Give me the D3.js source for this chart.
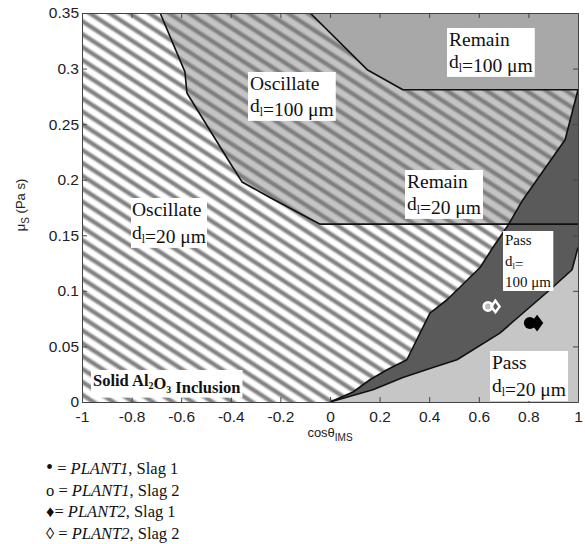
<!DOCTYPE html>
<html>
<head>
<meta charset="utf-8">
<script src="https://cdn.jsdelivr.net/npm/d3@7"></script>
<style>
  html, body { margin: 0; padding: 0; background: #fff; }
  svg { display: block; }
  .tick text { font-family: "Liberation Sans", Arial, sans-serif; font-size: 15.5px; fill: #222; }
  .serif { font-family: "Liberation Serif", "Times New Roman", serif; fill: #111; }
</style>
</head>
<body>
<svg id="chart" width="585" height="544"></svg>
<script>
// Axis ticks
const xTicks = [-1, -0.8, -0.6, -0.4, -0.2, 0, 0.2, 0.4, 0.6, 0.8, 1];
const xTickLabels = ["-1", "-0.8", "-0.6", "-0.4", "-0.2", "0", "0.2", "0.4", "0.6", "0.8", "1"];
const yTicks = [0, 0.05, 0.1, 0.15, 0.2, 0.25, 0.3, 0.35];
const yTickLabels = ["0", "0.05", "0.1", "0.15", "0.2", "0.25", "0.3", "0.35"];

// Regime boundaries, [cosθ, μS]
const oscillateBoundary = [[-0.685, 0.35], [-0.585, 0.297], [-0.577, 0.278], [-0.411, 0.218],
                           [-0.355, 0.198], [-0.242, 0.184], [-0.04, 0.16]];
const remainLine = [[-0.04, 0.16], [1, 0.16]];
const remain100Boundary = [[-0.08, 0.35], [0.15, 0.299], [0.294, 0.281], [1, 0.281]];
const pass100Upper = [[0, 0], [0.093, 0.009], [0.161, 0.02], [0.23, 0.029], [0.31, 0.038],
                      [0.403, 0.08], [0.472, 0.092], [0.605, 0.121], [0.657, 0.139],
                      [0.718, 0.159], [0.778, 0.182], [0.948, 0.236], [1, 0.281]];
const pass100Lower = [[0, 0], [0.173, 0.011], [0.294, 0.022], [0.415, 0.031], [0.512, 0.038],
                      [0.685, 0.062], [0.887, 0.101], [0.976, 0.119], [1, 0.139]];

// Plant measurements
const plant1Slag1 = [[0.806, 0.071]];
const plant1Slag2 = [[0.637, 0.086]];
const plant2Slag1 = [[0.835, 0.071]];
const plant2Slag2 = [[0.667, 0.086]];

const svg = d3.select("#chart");
const x = d3.scaleLinear().domain([-1, 1]).range([82, 578]);
const y = d3.scaleLinear().domain([0, 0.35]).range([402, 13]);

const defs = svg.append("defs");
function hatch(id, bg, stripe) {
  const gid = id + "-g";
  const g = defs.append("linearGradient").attr("id", gid)
    .attr("x1", 0).attr("y1", 0).attr("x2", 0).attr("y2", 1);
  [[0, bg], [0.18, bg], [0.42, stripe], [0.58, stripe], [0.82, bg], [1, bg]].forEach(([o, c]) =>
    g.append("stop").attr("offset", o).attr("stop-color", c));
  const p = defs.append("pattern").attr("id", id)
    .attr("patternUnits", "userSpaceOnUse")
    .attr("width", 20).attr("height", 10.8)
    .attr("patternTransform", "rotate(33)");
  p.append("rect").attr("width", 20).attr("height", 10.8).attr("fill", `url(#${gid})`);
}
hatch("hatchWhite", "#ffffff", "#828282");
hatch("hatchGray", "#c4c4c4", "#7e7e7e");

defs.append("clipPath").attr("id", "plotClip").append("rect")
  .attr("x", x(-1)).attr("y", y(0.35)).attr("width", x(1) - x(-1)).attr("height", y(0) - y(0.35));

const line = d3.line().x(d => x(d[0])).y(d => y(d[1]));
const plot = svg.append("g").attr("clip-path", "url(#plotClip)");

// Oscillate, dl = 20 µm (background)
plot.append("rect").attr("x", x(-1)).attr("y", y(0.35))
  .attr("width", x(1) - x(-1)).attr("height", y(0) - y(0.35))
  .attr("fill", "url(#hatchWhite)");

// Oscillate 100 µm / Remain 20 µm
plot.append("path")
  .attr("d", line([...oscillateBoundary, [1, 0.16], [1, 0.35]]) + "Z")
  .attr("fill", "url(#hatchGray)");

// Remain, dl = 100 µm
plot.append("path")
  .attr("d", line([...remain100Boundary, [1, 0.35]]) + "Z")
  .attr("fill", "#a8a8a8");

// Pass, dl = 20 µm
plot.append("path")
  .attr("d", line([...pass100Lower, [1, 0]]) + "Z")
  .attr("fill", "#c6c6c6");

// Pass, dl = 100 µm
plot.append("path")
  .attr("d", line([...pass100Upper, ...pass100Lower.slice().reverse()]) + "Z")
  .attr("fill", "#5a5a5a");

// Boundary lines
[oscillateBoundary, remainLine, remain100Boundary, pass100Upper, pass100Lower].forEach(b =>
  plot.append("path").attr("d", line(b)).attr("fill", "none")
    .attr("stroke", "#111").attr("stroke-width", 1.6).attr("stroke-linejoin", "round"));

// Axes with inward ticks on all sides
const fmtX = d => xTickLabels[xTicks.indexOf(d)];
const fmtY = d => yTickLabels[yTicks.indexOf(d)];
function styleAxis(g) {
  g.select(".domain").attr("stroke", "#444");
  g.selectAll(".tick line").attr("stroke", "#444");
}
svg.append("g").attr("transform", `translate(0,${y(0)})`)
  .call(d3.axisBottom(x).tickValues(xTicks).tickFormat(fmtX).tickSize(-5).tickPadding(9).tickSizeOuter(0))
  .call(styleAxis);
svg.append("g").attr("transform", `translate(0,${y(0.35)})`)
  .call(d3.axisTop(x).tickValues(xTicks).tickFormat("").tickSize(-5).tickSizeOuter(0))
  .call(styleAxis);
svg.append("g").attr("transform", `translate(${x(-1)},0)`)
  .call(d3.axisLeft(y).tickValues(yTicks).tickFormat(fmtY).tickSize(-5).tickPadding(3).tickSizeOuter(0))
  .call(styleAxis);
svg.append("g").attr("transform", `translate(${x(1)},0)`)
  .call(d3.axisRight(y).tickValues(yTicks).tickFormat("").tickSize(-5).tickSizeOuter(0))
  .call(styleAxis);

// Axis titles
const xt = svg.append("text").attr("x", x(0)).attr("y", 437).attr("text-anchor", "middle")
  .attr("font-family", "Liberation Sans, Arial, sans-serif").attr("font-size", 13).attr("fill", "#222");
xt.append("tspan").text("cosθ");
xt.append("tspan").attr("font-size", 10).attr("dy", 4).text("IMS");

const yt = svg.append("text").attr("transform", "translate(25,205) rotate(-90)")
  .attr("text-anchor", "middle")
  .attr("font-family", "Liberation Sans, Arial, sans-serif").attr("font-size", 13).attr("fill", "#222");
yt.append("tspan").text("μ");
yt.append("tspan").attr("font-size", 10).attr("dy", 4).text("S");
yt.append("tspan").attr("dy", -4).text(" (Pa s)");

// Region labels in white boxes
function label(lines, x0, y0, size, lh, boxPad, weight) {
  const g = svg.append("g");
  const rect = g.append("rect").attr("fill", "#fff");
  const t = g.append("text").attr("class", "serif").attr("font-size", size)
    .attr("font-weight", weight || "normal");
  lines.forEach((ln, i) => {
    const tl = t.append("tspan").attr("x", x0).attr("y", y0 + i * lh);
    ln.forEach(part => {
      if (part.sub) {
        tl.append("tspan").attr("font-size", size * 0.6).attr("dy", size * 0.2).text(part.sub);
        tl.append("tspan").attr("dy", -size * 0.2).text("");
      } else {
        tl.append("tspan").text(part.t);
      }
    });
  });
  const bb = t.node().getBBox();
  rect.attr("x", bb.x - boxPad).attr("y", bb.y - 1).attr("width", bb.width + 2 * boxPad).attr("height", bb.height + 2);
  return t;
}
const dl = (rest) => [{t: "d"}, {sub: "l"}, {t: rest}];
label([[{t: "Remain"}], dl("=100 μm")], 449, 46, 19.5, 22, 2);
label([[{t: "Oscillate"}], dl("=100 μm")], 250, 90, 19.5, 22, 2);
label([[{t: "Oscillate"}], dl("=20 μm")], 132, 216, 19.5, 23, 1);
label([[{t: "Remain"}], dl("=20 μm")], 407, 188, 19.5, 22, 2);
label([[{t: "Pass"}], dl("="), [{t: "100 μm"}]], 505, 245, 15, 21, 2);
label([[{t: "Pass"}], dl("=20 μm")], 492, 369, 19.5, 23, 2);
label([[{t: "Solid Al"}, {sub: "2"}, {t: "O"}, {sub: "3"}, {t: " Inclusion"}]], 93, 386, 16.5, 0, 2, "bold");

// Plant measurement markers
const diam = d3.symbol().type(d3.symbolDiamond);
plot.selectAll(".p1s2").data(plant1Slag2).join("circle")
  .attr("cx", d => x(d[0])).attr("cy", d => y(d[1])).attr("r", 4.2)
  .attr("fill", "#bbb").attr("stroke", "#fff").attr("stroke-width", 2.6);
plot.selectAll(".p2s2").data(plant2Slag2).join("path")
  .attr("transform", d => `translate(${x(d[0])},${y(d[1])}) scale(1,0.8)`)
  .attr("d", diam.size(60)()).attr("fill", "none").attr("stroke", "#fff").attr("stroke-width", 2.6);
plot.selectAll(".p1s1").data(plant1Slag1).join("circle")
  .attr("cx", d => x(d[0])).attr("cy", d => y(d[1])).attr("r", 6)
  .attr("fill", "#000");
plot.selectAll(".p2s1").data(plant2Slag1).join("path")
  .attr("transform", d => `translate(${x(d[0])},${y(d[1])}) scale(1.1,0.85)`)
  .attr("d", diam.size(110)()).attr("fill", "#000");

// Legend
const legendSymbols = ["•", "o", "♦", "◊"];
const legendPlants = ["PLANT1", "PLANT1", "PLANT2", "PLANT2"];
const legendSlags = ["Slag 1", "Slag 2", "Slag 1", "Slag 2"];
const legendY = [474, 496, 517, 539];
legendSymbols.forEach((s, i) => {
  const t = svg.append("text").attr("class", "serif").attr("font-size", 16.5)
    .attr("x", 46).attr("y", legendY[i]);
  t.append("tspan").attr("font-size", i === 0 ? 20 : 16.5).text(s);
  t.append("tspan").text((i === 2 ? "" : " ") + "= ");
  t.append("tspan").attr("font-style", "italic").text(legendPlants[i]);
  t.append("tspan").text(", " + legendSlags[i]);
});
</script>
</body>
</html>
